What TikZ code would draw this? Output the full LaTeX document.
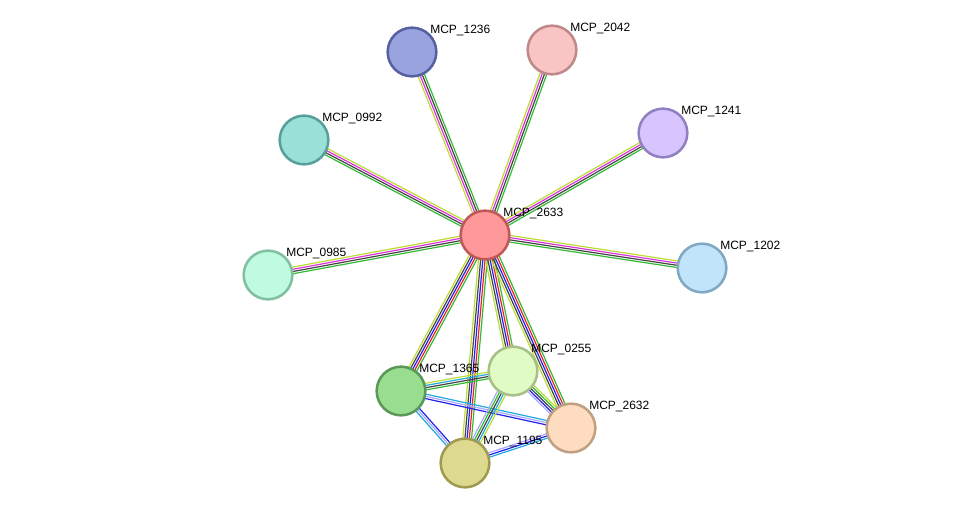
\documentclass[tikz,border=0pt]{standalone}
\usepackage{fontspec}
\setmainfont{Liberation Sans}
\usetikzlibrary{calc}
\definecolor{qg}{HTML}{33BB33}\definecolor{qm}{HTML}{DD33DD}\definecolor{qk}{HTML}{444444}
\definecolor{qy}{HTML}{BBDD33}\definecolor{qr}{HTML}{EE2222}\definecolor{qb}{HTML}{2222EE}
\definecolor{qc}{HTML}{22AADD}\definecolor{ql}{HTML}{AAAAFF}
\newcommand\medge[4]{\foreach \c [count=\i] in {#4} {\draw[draw=\c,line width=0.9pt] ($(#1)!{(\i-(#3+1)/2)*1.65pt}!90:(#2)$) -- ($(#2)!{(\i-(#3+1)/2)*1.65pt}!-90:(#1)$);}}
\newcommand\pnode[5]{\definecolor{f#1}{HTML}{#4}\definecolor{d#1}{HTML}{#5}\node[pn,fill=f#1,draw=d#1] (#1) at (#2) {}; \node[lab] (#1l) at ($(#2)+(18,-21)$) {#3};}
\begin{document}
\begin{tikzpicture}[x=0.75pt,y=-0.75pt,
 pn/.style={circle,minimum size=36.5,line width=1.9pt,inner sep=0},
 lab/.style={anchor=west,inner sep=0,font=\fontsize{9}{10}\selectfont}]
\useasboundingbox (0,0) rectangle (975,509);
\coordinate (a) at (485,235); \coordinate (b) at (412,52); \coordinate (c) at (552,50);
\coordinate (d) at (663,133); \coordinate (e) at (304,140); \coordinate (f) at (702,268);
\coordinate (g) at (268,275); \coordinate (h) at (513,371); \coordinate (i) at (401,391);
\coordinate (j) at (571,428); \coordinate (k) at (465,463);
\medge{a}{b}{4}{qg,qk,qm,qy}
\medge{a}{c}{4}{qg,qk,qm,qy}
\medge{a}{d}{4}{qg,qk,qm,qy}
\medge{a}{e}{4}{qy,qm,qk,qg}
\medge{a}{f}{4}{qg,qk,qm,qy}
\medge{a}{g}{4}{qy,qm,qk,qg}
\medge{a}{i}{5}{qy,qk,qb,qr,qg}
\medge{a}{k}{5}{qy,qk,qb,qr,qg}
\medge{a}{h}{5}{qy,qk,qb,qr,qg}
\medge{a}{j}{5}{qy,qk,qb,qr,qg}
\medge{i}{h}{4}{qg,qk,qc,qy}
\medge{i}{j}{3}{qb,ql,qc}
\medge{i}{k}{3}{qc,ql,qb}
\medge{h}{k}{5}{ql,qg,qk,qc,qy}
\medge{h}{j}{5}{ql,qb,qk,qg,qy}
\medge{k}{j}{3}{qc,qb,ql}
\pnode{n2633}{a}{MCP\_2633}{FF9999}{C05858}
\pnode{n1236}{b}{MCP\_1236}{99A3E0}{5560A0}
\pnode{n2042}{c}{MCP\_2042}{F8C4C4}{C08888}
\pnode{n1241}{d}{MCP\_1241}{D8C4FF}{9080C0}
\pnode{n0992}{e}{MCP\_0992}{99E0D8}{55A098}
\pnode{n1202}{f}{MCP\_1202}{C0E4FA}{80A8C0}
\pnode{n0985}{g}{MCP\_0985}{C0FAE0}{80C0A0}
\pnode{n0255}{h}{MCP\_0255}{E0FCC4}{A8C088}
\pnode{n1365}{i}{MCP\_1365}{99DD90}{5A985A}
\pnode{n2632}{j}{MCP\_2632}{FDDCC0}{C0A080}
\pnode{n1195}{k}{MCP\_1195}{DDDA90}{A09A50}
\end{tikzpicture}
\end{document}
